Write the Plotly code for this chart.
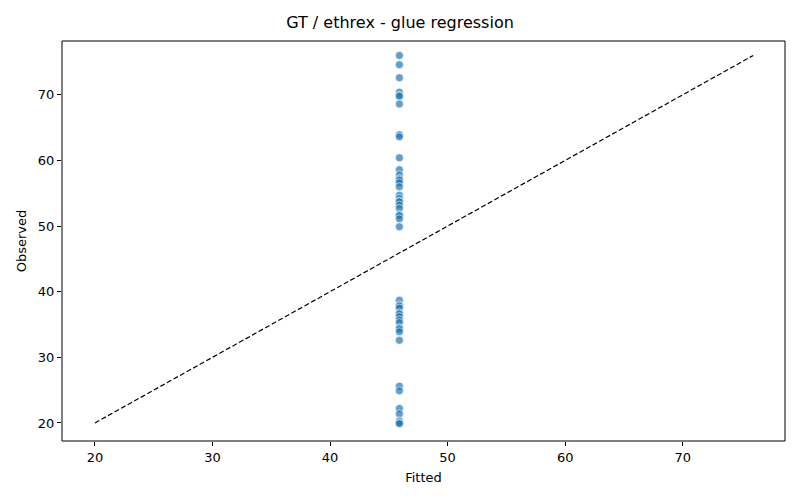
import plotly.graph_objects as go

fitted_value = 45.9
observed = [76.0, 74.6, 72.6, 70.4, 69.9, 69.8, 68.6, 63.9, 63.6, 60.4,
            58.6, 57.8, 57.2, 57.0, 56.6, 56.0, 54.7, 54.2, 53.8, 53.7, 53.2,
            52.7, 51.7, 51.6, 51.1, 49.9,
            38.7, 38.0, 37.8, 37.5, 36.8, 36.6, 36.2, 35.7, 35.3, 34.5, 34.3,
            33.9, 32.6,
            25.6, 24.9, 22.2, 21.4, 20.3, 20.0, 19.9]
fitted = [fitted_value] * len(observed)
ref_line = [20, 76]

fig = go.Figure()
fig.add_trace(go.Scatter(
    x=fitted, y=observed, mode="markers",
    marker=dict(size=8, color="rgba(31,119,180,0.7)",
                line=dict(color="white", width=0.6)),
    showlegend=False))
fig.add_trace(go.Scatter(
    x=ref_line, y=ref_line, mode="lines",
    line=dict(color="black", width=1.2, dash="5px,2.5px"),
    showlegend=False))

axis_common = dict(showgrid=False, zeroline=False, showline=False,
                   ticks="outside", ticklen=4, automargin=False,
                   tickcolor="black", tickfont=dict(size=13, color="black"))
fig.add_shape(type="rect", xref="paper", yref="paper", x0=0, y0=0, x1=1, y1=1,
              line=dict(color="black", width=1), layer="above")
fig.update_layout(
    width=800, height=500,
    margin=dict(l=62, r=15, t=41, b=59, autoexpand=False),
    paper_bgcolor="white", plot_bgcolor="white",
    font=dict(family="DejaVu Sans", color="black"),
    title=dict(text="GT / ethrex - glue regression", x=0.5, xanchor="center",
               y=0.955, yanchor="middle", font=dict(size=16)),
    xaxis=dict(axis_common, range=[17.2, 78.7], tickvals=[20, 30, 40, 50, 60, 70],
               title=dict(text="Fitted", font=dict(size=13), standoff=9)),
    yaxis=dict(axis_common, range=[17.25, 78.2], tickvals=[20, 30, 40, 50, 60, 70],
               title=dict(text="Observed", font=dict(size=13), standoff=8)),
)
fig.write_html("out.html", post_script="document.body.style.margin='0';",
               config={"displayModeBar": False})
